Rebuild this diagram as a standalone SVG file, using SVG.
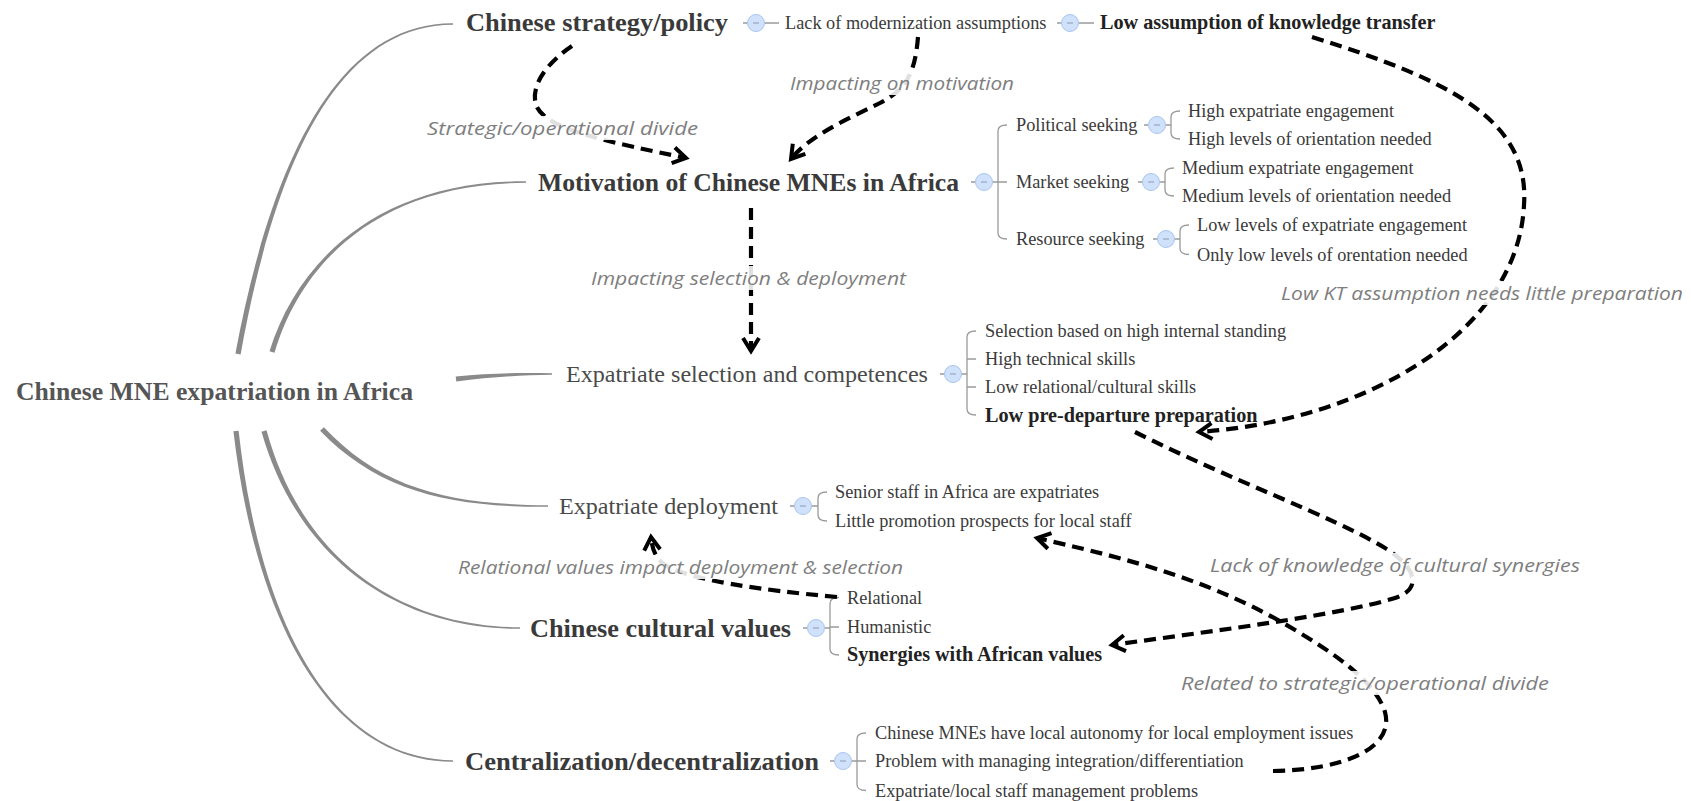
<svg xmlns="http://www.w3.org/2000/svg" width="1691" height="801" viewBox="0 0 1691 801">
<defs>
<style>
.root{font-family:"Liberation Serif",serif;font-size:25.6px;font-weight:bold;fill:#555}
.main{font-family:"Liberation Serif",serif;font-size:25.6px;font-weight:bold;fill:#3a3a3a}
.mainr{font-family:"Liberation Serif",serif;font-size:24px;fill:#4a4a4a}
.sub{font-family:"Liberation Serif",serif;font-size:18.3px;fill:#3a3a3a}
.subb{font-family:"Liberation Serif",serif;font-size:20.2px;font-weight:bold;fill:#222}
.lbl{font-family:"Open Sans",sans-serif;font-style:italic;font-size:18px;fill:#7e7e7e}
.lblbg{fill:#fff;opacity:0.88}
.br{fill:#8a8a8a}
.brk{fill:none;stroke:#9a9a9a;stroke-width:1.3}
.tog{fill:#d0e1fb;stroke:#a9c5f0;stroke-width:1}
.minus{stroke:#8a9ab0;stroke-width:1}
.rel{fill:none;stroke:#000;stroke-width:4.2;stroke-dasharray:12 7;marker-end:url(#ah)}
</style>
<marker id="ah" viewBox="-16 -10 18 20" refX="0" refY="0" markerWidth="18" markerHeight="20" orient="auto" markerUnits="userSpaceOnUse" overflow="visible">
<path d="M-13,-8 L0,0 L-13,8" fill="none" stroke="#000" stroke-width="4" stroke-dasharray="none"/>
</marker>
</defs>
<rect width="1691" height="801" fill="#fff"/>

<g id="connectors">
 <g id="branches">
  <path class="br" d="M240.6,354.5 C272,180.4 330,25.4 453,24.8 L453,23.3 C330,22.6 268,179.6 235.4,353.5 Z"/>
  <path class="br" d="M274.5,352.8 C301.9,260.6 380,183.4 526,182.8 L526,181.3 C380,180.6 298.1,259.4 269.5,351.2 Z"/>
  <path class="br" d="M456.3,381.6 C490.2,377 520,375.4 552,374.8 L552,373.3 C520,372.6 489.8,373 455.7,376.4 Z"/>
  <path class="br" d="M320.1,430.8 C378.6,491.4 450,507.4 548,506.8 L548,505.3 C450,504.6 381.4,488.6 323.9,427.2 Z"/>
  <path class="br" d="M261.5,431.7 C298.1,560.5 400,629.4 520,628.8 L520,627.3 C400,626.6 301.9,559.5 266.5,430.3 Z"/>
  <path class="br" d="M233.4,431.3 C258,640.2 340,762.4 453,761.8 L453,760.3 C340,759.6 262,639.8 238.6,430.7 Z"/>
 </g>
 <g id="brackets">
  <path class="brk" d="M743,23 H747.5 M764.5,23 H779"/>
  <path class="brk" d="M1057,23 H1061.5 M1078.5,23 H1094"/>
  <path class="brk" d="M971,182 H975.5 M992.5,182 H998 M1007,125 Q998,125 998,131 V233 Q998,239 1007,239 M998,182 H1007"/>
  <path class="brk" d="M1144,125 H1148.5 M1165.5,125 H1171 M1180,111 Q1171,111 1171,117 V133 Q1171,139 1180,139"/>
  <path class="brk" d="M1138,182 H1142.5 M1159.5,182 H1165 M1174,168 Q1165,168 1165,174 V190 Q1165,196 1174,196"/>
  <path class="brk" d="M1153,239 H1157.5 M1174.5,239 H1180 M1189,225 Q1180,225 1180,231 V248.5 Q1180,254.5 1189,254.5"/>
  <path class="brk" d="M940,374 H944.5 M961.5,374 H967 M976,331 Q967,331 967,337 V409 Q967,415 976,415 M967,359 H976 M967,387 H976"/>
  <path class="brk" d="M790,506 H794.5 M811.5,506 H818 M827,492 Q818,492 818,498 V515 Q818,521 827,521"/>
  <path class="brk" d="M803,628 H807.5 M824.5,628 H830 M839,597.5 Q830,597.5 830,603.5 V649 Q830,655 839,655 M830,627 H839"/>
  <path class="brk" d="M830,761 H834.5 M851.5,761 H857 M866,733 Q857,733 857,739 V784.5 Q857,790.5 866,790.5 M857,761 H866"/>
 </g>
 <g id="relations">
  <path id="rel-a" class="rel" d="M572,46 C548,62 530,85 536,105 C545,130 610,142 686,158"/>
  <path id="rel-b" class="rel" d="M918,37 C915,75 905,90 880,103 C850,118 810,135 791,159"/>
  <path id="rel-c" class="rel" d="M751,208 L751,351"/>
  <path id="rel-d" class="rel" d="M1312,37 C1450,80 1530,120 1524,205 C1518,330 1370,420 1199,432"/>
  <path id="rel-e" class="rel" d="M837,597 C760,590 690,580 665,565 C655,558 652,548 651,537"/>
  <path id="rel-f" class="rel" d="M1135,432 C1230,480 1330,515 1385,548 C1420,570 1420,590 1395,598 C1340,615 1220,630 1112,645"/>
  <path id="rel-g" class="rel" d="M1273,771 C1340,770 1395,750 1385,712 C1375,680 1330,650 1283,623 C1200,575 1110,555 1037,538"/>
 </g>
 <g id="relation-labels">
  <rect class="lblbg" x="788" y="71" width="228" height="24"/>
  <text class="lbl" x="790" y="89.5" textLength="224" lengthAdjust="spacingAndGlyphs">Impacting on motivation</text>
  <rect class="lblbg" x="425" y="116" width="275" height="24"/>
  <text class="lbl" x="427" y="134.5" textLength="271" lengthAdjust="spacingAndGlyphs">Strategic/operational divide</text>
  <rect class="lblbg" x="589" y="266" width="319" height="24"/>
  <text class="lbl" x="591" y="284.5" textLength="315" lengthAdjust="spacingAndGlyphs">Impacting selection &amp; deployment</text>
  <rect class="lblbg" x="1279" y="281" width="406" height="24"/>
  <text class="lbl" x="1281" y="299.5" textLength="402" lengthAdjust="spacingAndGlyphs">Low KT assumption needs little preparation</text>
  <rect class="lblbg" x="456" y="555" width="449" height="24"/>
  <text class="lbl" x="458" y="573.5" textLength="445" lengthAdjust="spacingAndGlyphs">Relational values impact deployment &amp; selection</text>
  <rect class="lblbg" x="1208" y="553" width="374" height="24"/>
  <text class="lbl" x="1210" y="571.5" textLength="370" lengthAdjust="spacingAndGlyphs">Lack of knowledge of cultural synergies</text>
  <rect class="lblbg" x="1179" y="671" width="372" height="24"/>
  <text class="lbl" x="1181" y="689.5" textLength="368" lengthAdjust="spacingAndGlyphs">Related to strategic/operational divide</text>
 </g>
</g>

<g id="root">
 <text class="root" x="16" y="400" textLength="397" lengthAdjust="spacingAndGlyphs">Chinese MNE expatriation in Africa</text>
</g>

<g id="strategy">
 <text class="main" x="466" y="31" textLength="262" lengthAdjust="spacingAndGlyphs">Chinese strategy/policy</text>
 <circle class="tog" cx="756" cy="23" r="8.5"/><path class="minus" d="M753,23 H759"/>
</g>
<g id="lack-modernization">
 <text class="sub" x="785" y="28.6">Lack of modernization assumptions</text>
 <circle class="tog" cx="1070" cy="23" r="8.5"/><path class="minus" d="M1067,23 H1073"/>
</g>
<g id="low-kt">
 <text class="subb" x="1100" y="29">Low assumption of knowledge transfer</text>
</g>

<g id="motivation">
 <text class="main" x="538" y="190.5" textLength="421" lengthAdjust="spacingAndGlyphs">Motivation of Chinese MNEs in Africa</text>
 <circle class="tog" cx="984" cy="182" r="8.5"/><path class="minus" d="M981,182 H987"/>
</g>
<g id="political">
 <text class="sub" x="1016" y="131">Political seeking</text>
 <circle class="tog" cx="1157" cy="125" r="8.5"/><path class="minus" d="M1154,125 H1160"/>
</g>
<g id="political-children">
 <text class="sub" x="1188" y="117">High expatriate engagement</text>
 <text class="sub" x="1188" y="145">High levels of orientation needed</text>
</g>
<g id="market">
 <text class="sub" x="1016" y="188">Market seeking</text>
 <circle class="tog" cx="1151" cy="182" r="8.5"/><path class="minus" d="M1148,182 H1154"/>
</g>
<g id="market-children">
 <text class="sub" x="1182" y="174">Medium expatriate engagement</text>
 <text class="sub" x="1182" y="202">Medium levels of orientation needed</text>
</g>
<g id="resource">
 <text class="sub" x="1016" y="245">Resource seeking</text>
 <circle class="tog" cx="1166" cy="239" r="8.5"/><path class="minus" d="M1163,239 H1169"/>
</g>
<g id="resource-children">
 <text class="sub" x="1197" y="231">Low levels of expatriate engagement</text>
 <text class="sub" x="1197" y="260.5">Only low levels of orentation needed</text>
</g>

<g id="selection">
 <text class="mainr" x="566" y="382" textLength="362" lengthAdjust="spacingAndGlyphs">Expatriate selection and competences</text>
 <circle class="tog" cx="953" cy="374" r="8.5"/><path class="minus" d="M950,374 H956"/>
</g>
<g id="selection-children">
 <text class="sub" x="985" y="337">Selection based on high internal standing</text>
 <text class="sub" x="985" y="365">High technical skills</text>
 <text class="sub" x="985" y="393">Low relational/cultural skills</text>
 <text class="subb" x="985" y="421.5">Low pre-departure preparation</text>
</g>

<g id="deployment">
 <text class="mainr" x="559" y="514" textLength="219" lengthAdjust="spacingAndGlyphs">Expatriate deployment</text>
 <circle class="tog" cx="803" cy="506" r="8.5"/><path class="minus" d="M800,506 H806"/>
</g>
<g id="deployment-children">
 <text class="sub" x="835" y="498">Senior staff in Africa are expatriates</text>
 <text class="sub" x="835" y="527">Little promotion prospects for local staff</text>
</g>

<g id="cultural">
 <text class="main" x="530" y="636.5" textLength="261" lengthAdjust="spacingAndGlyphs">Chinese cultural values</text>
 <circle class="tog" cx="816" cy="628" r="8.5"/><path class="minus" d="M813,628 H819"/>
</g>
<g id="cultural-children">
 <text class="sub" x="847" y="603.5">Relational</text>
 <text class="sub" x="847" y="632.6">Humanistic</text>
 <text class="subb" x="847" y="661">Synergies with African values</text>
</g>

<g id="centralization">
 <text class="main" x="465" y="769.5" textLength="354" lengthAdjust="spacingAndGlyphs">Centralization/decentralization</text>
 <circle class="tog" cx="843" cy="761" r="8.5"/><path class="minus" d="M840,761 H846"/>
</g>
<g id="centralization-children">
 <text class="sub" x="875" y="739">Chinese MNEs have local autonomy for local employment issues</text>
 <text class="sub" x="875" y="767">Problem with managing integration/differentiation</text>
 <text class="sub" x="875" y="796.5">Expatriate/local staff management problems</text>
</g>
</svg>
